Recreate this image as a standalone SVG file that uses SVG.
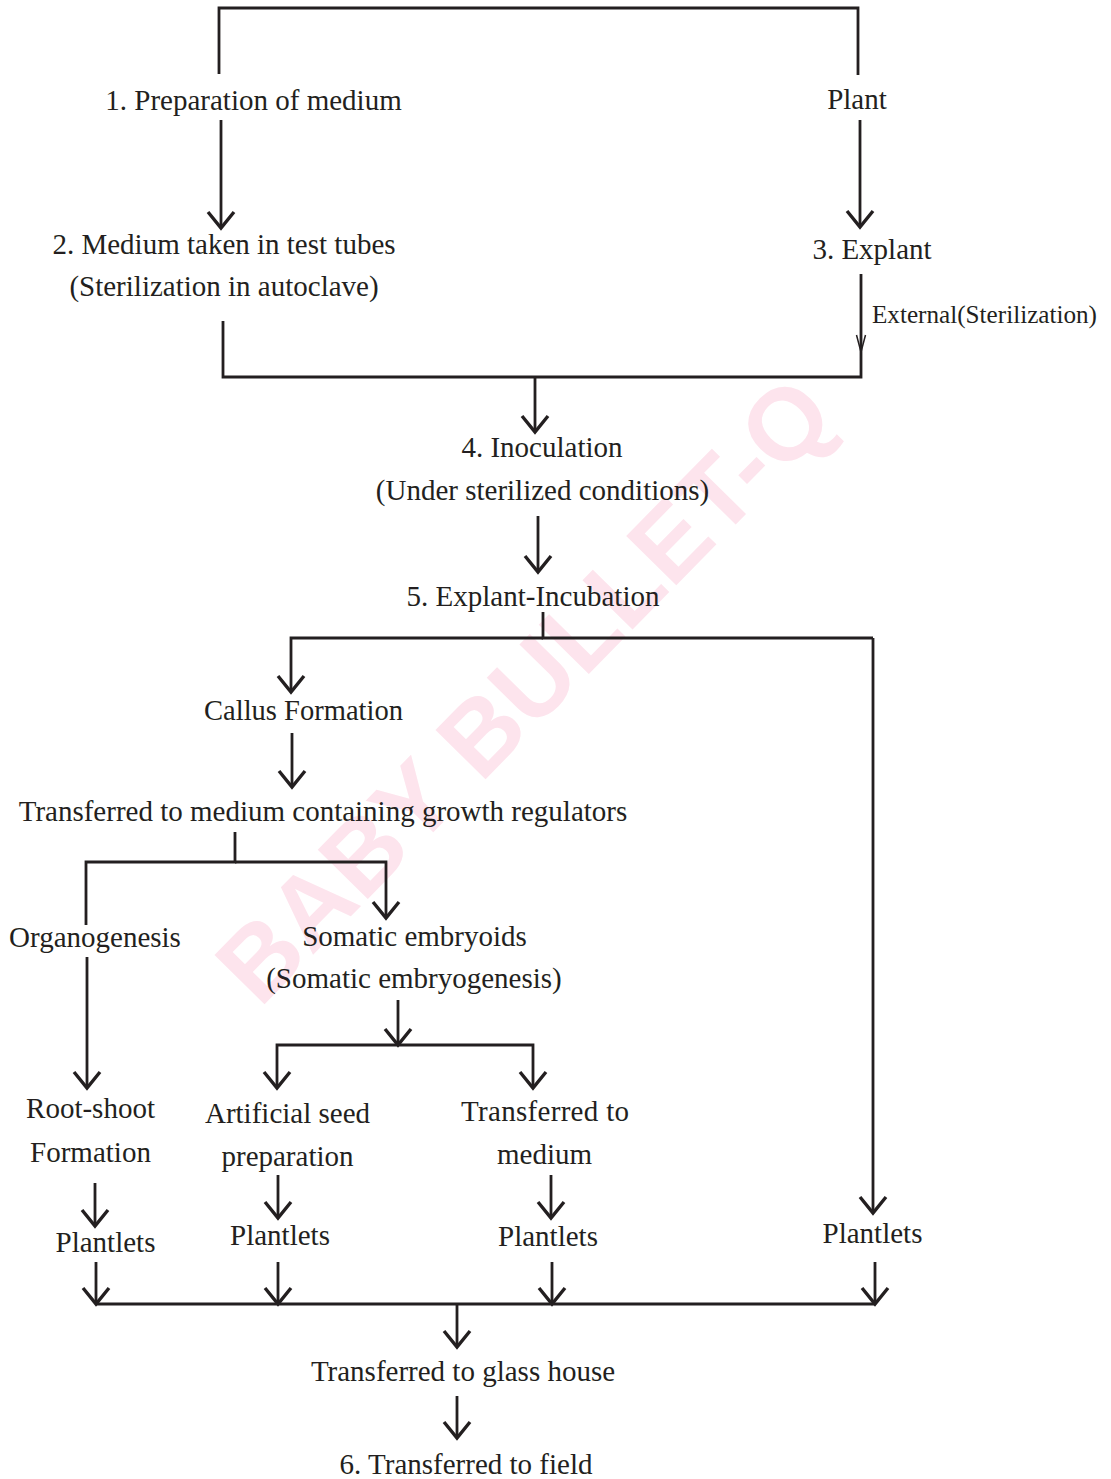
<svg xmlns="http://www.w3.org/2000/svg" width="1111" height="1479" viewBox="0 0 1111 1479">
<style>
.t{font-family:"Liberation Serif","Times New Roman",serif;font-size:29px;fill:#231f20;text-anchor:middle}
.s{text-anchor:start}
.ln{fill:none;stroke:#231f20;stroke-width:2.8;stroke-linecap:butt;stroke-linejoin:miter}
.ar{marker-end:url(#ah)}
.wm{font-family:"Liberation Sans",Arial,sans-serif;font-weight:bold;font-size:102px;fill:#fde4ed;text-anchor:middle}
</style>
<defs>
<marker id="ah" markerUnits="userSpaceOnUse" viewBox="-20 -16 24 32" refX="0" refY="0" markerWidth="24" markerHeight="32" orient="auto" overflow="visible">
<path d="M-16,-13 L0,0 L-16,13" fill="none" stroke="#231f20" stroke-width="3.4" stroke-linejoin="miter"/>
</marker>
<marker id="ahs" markerUnits="userSpaceOnUse" viewBox="-20 -8 24 16" refX="0" refY="0" markerWidth="24" markerHeight="16" orient="auto" overflow="visible">
<path d="M-17,-4.5 L0,0 L-17,4.5" fill="none" stroke="#231f20" stroke-width="1.5"/>
</marker>
</defs>
<rect width="1111" height="1479" fill="#ffffff"/>
<text class="wm" transform="translate(524,690) rotate(-45.5)" dominant-baseline="central">BABY BULLET-Q</text>

<g id="connectors">
<path class="ln" d="M219,74 V8 H858 V75"/>
<path class="ln ar" d="M221,120 V228"/>
<path class="ln ar" d="M860,120 V227"/>
<path class="ln" d="M861,274 V377 H223 V321"/>
<path d="M861,290 V352" fill="none" stroke="none" marker-end="url(#ahs)"/>
<path class="ln ar" d="M535,377 V432"/>
<path class="ln ar" d="M538,516 V572"/>
<path class="ln" d="M543,612 V638 H873"/>
<path class="ln ar" d="M873,638 V1213"/>
<path class="ln ar" d="M543,638 H291 V692"/>
<path class="ln ar" d="M292,733 V787"/>
<path class="ln" d="M235,832 V862 H86 V925"/>
<path class="ln ar" d="M235,862 H386 V918"/>
<path class="ln ar" d="M87,957 V1088"/>
<path class="ln ar" d="M398,1000 V1045"/>
<path class="ln ar" d="M398,1045 H277 V1088"/>
<path class="ln ar" d="M398,1045 H533 V1088"/>
<path class="ln ar" d="M95,1183 V1226"/>
<path class="ln ar" d="M278,1175 V1218"/>
<path class="ln ar" d="M551,1175 V1218"/>
<path class="ln ar" d="M96,1262 V1304"/>
<path class="ln ar" d="M278,1262 V1304"/>
<path class="ln ar" d="M552,1262 V1304"/>
<path class="ln ar" d="M875,1262 V1304"/>
<path class="ln" d="M96,1304 H875"/>
<path class="ln ar" d="M457,1304 V1347"/>
<path class="ln ar" d="M457,1396 V1438"/>
</g>

<g id="n1"><text class="t" x="253.5" y="110">1. Preparation of medium</text></g>
<g id="plant"><text class="t" x="857" y="109">Plant</text></g>
<g id="n2"><text class="t" x="224" y="254">2. Medium taken in test tubes</text><text class="t" x="224" y="296">(Sterilization in autoclave)</text></g>
<g id="n3"><text class="t" x="872" y="259">3. Explant</text></g>
<g id="ext"><text class="t s" x="872" y="323" style="font-size:26px" textLength="225" lengthAdjust="spacingAndGlyphs">External(Sterilization)</text></g>
<g id="n4"><text class="t" x="542" y="457">4. Inoculation</text><text class="t" x="542.5" y="500">(Under sterilized conditions)</text></g>
<g id="n5"><text class="t" x="533" y="606">5. Explant-Incubation</text></g>
<g id="callus"><text class="t s" x="204" y="720" textLength="199" lengthAdjust="spacingAndGlyphs">Callus Formation</text></g>
<g id="growth"><text class="t" x="323" y="821">Transferred to medium containing growth regulators</text></g>
<g id="organo"><text class="t" x="95" y="947">Organogenesis</text></g>
<g id="somatic"><text class="t" x="414.5" y="946">Somatic embryoids</text><text class="t" x="414" y="988">(Somatic embryogenesis)</text></g>
<g id="rootshoot"><text class="t" x="90.5" y="1118">Root-shoot</text><text class="t" x="90.5" y="1162">Formation</text></g>
<g id="artseed"><text class="t" x="287.5" y="1123">Artificial seed</text><text class="t" x="287.5" y="1166">preparation</text></g>
<g id="tmedium"><text class="t s" x="461" y="1121" textLength="168">Transferred to</text><text class="t" x="544.5" y="1164">medium</text></g>
<g id="plantlets1"><text class="t" x="105.5" y="1252">Plantlets</text></g>
<g id="plantlets2"><text class="t" x="280" y="1245">Plantlets</text></g>
<g id="plantlets3"><text class="t" x="548" y="1246">Plantlets</text></g>
<g id="plantlets4"><text class="t" x="872.5" y="1243">Plantlets</text></g>
<g id="glass"><text class="t" x="463" y="1381">Transferred to glass house</text></g>
<g id="n6"><text class="t" x="466" y="1474">6. Transferred to field</text></g>
</svg>
